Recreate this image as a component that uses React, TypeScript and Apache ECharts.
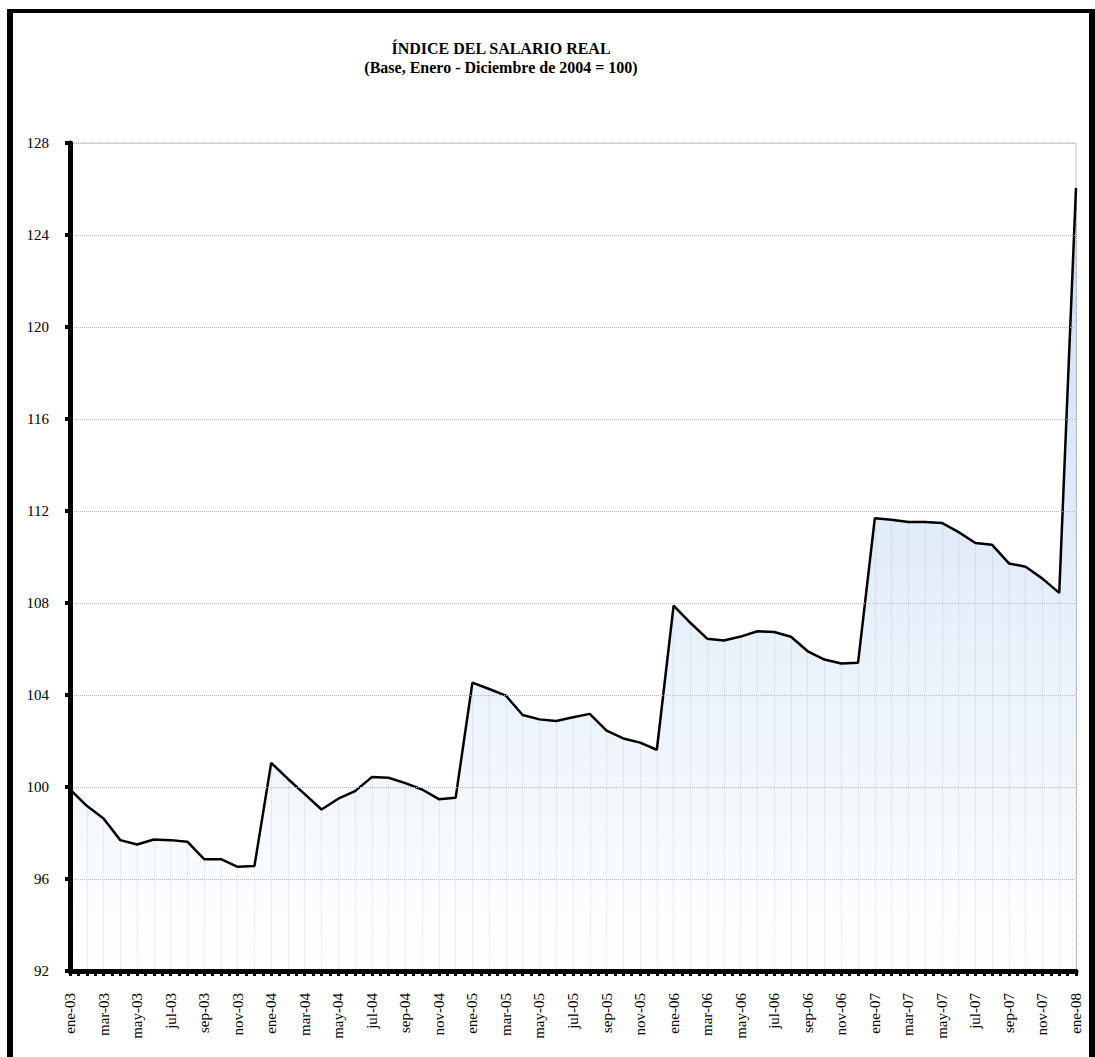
import React, { useEffect, useRef } from "react";
import * as echarts from "echarts";

const categories: string[] = [
  "ene-03", "feb-03", "mar-03", "abr-03", "may-03", "jun-03", "jul-03", "ago-03", "sep-03", "oct-03", "nov-03", "dic-03",
  "ene-04", "feb-04", "mar-04", "abr-04", "may-04", "jun-04", "jul-04", "ago-04", "sep-04", "oct-04", "nov-04", "dic-04",
  "ene-05", "feb-05", "mar-05", "abr-05", "may-05", "jun-05", "jul-05", "ago-05", "sep-05", "oct-05", "nov-05", "dic-05",
  "ene-06", "feb-06", "mar-06", "abr-06", "may-06", "jun-06", "jul-06", "ago-06", "sep-06", "oct-06", "nov-06", "dic-06",
  "ene-07", "feb-07", "mar-07", "abr-07", "may-07", "jun-07", "jul-07", "ago-07", "sep-07", "oct-07", "nov-07", "dic-07",
  "ene-08",
];

const values2003: number[] = [99.9, 99.18, 98.63, 97.69, 97.5, 97.72, 97.69, 97.62, 96.86, 96.86, 96.53, 96.56];
const values2004: number[] = [101.05, 100.35, 99.69, 99.02, 99.49, 99.82, 100.43, 100.4, 100.17, 99.89, 99.47, 99.53];
const values2005: number[] = [104.54, 104.26, 103.97, 103.13, 102.94, 102.87, 103.03, 103.18, 102.45, 102.11, 101.93, 101.62];
const values2006: number[] = [107.89, 107.14, 106.45, 106.37, 106.54, 106.77, 106.74, 106.53, 105.9, 105.54, 105.37, 105.4];
const values2007: number[] = [111.68, 111.62, 111.52, 111.52, 111.48, 111.08, 110.61, 110.53, 109.72, 109.58, 109.06, 108.44];
const values2008: number[] = [126.05];

const salario: number[] = [...values2003, ...values2004, ...values2005, ...values2006, ...values2007, ...values2008];

const yMin = 92;
const yMax = 128;
const yInterval = 4;

const titleLine1 = "ÍNDICE DEL SALARIO REAL";
const titleLine2 = "(Base, Enero - Diciembre de 2004 = 100)";

const SERIF = "Liberation Serif";

export default function App() {
  const ref = useRef<HTMLDivElement>(null);

  useEffect(() => {
    if (!ref.current) return;
    const chart = echarts.init(ref.current, null, { renderer: "svg" });

    const dropLines = salario.map((v, i) => [
      { coord: [categories[i], yMin] },
      { coord: [categories[i], v] },
    ]);

    chart.setOption({
      animation: false,
      backgroundColor: "#ffffff",
      textStyle: { fontFamily: SERIF },
      title: {
        text: titleLine1 + "\n" + titleLine2,
        left: 496,
        top: 34,
        textAlign: "center",
        textStyle: {
          fontFamily: SERIF,
          fontSize: 16,
          fontWeight: "bold",
          color: "#000",
          lineHeight: 19,
        },
      },
      grid: {
        left: 70,
        right: 19,
        top: 143,
        bottom: 86,
        show: true,
        borderColor: "#c8c8c8",
        borderWidth: 1,
        backgroundColor: "transparent",
      },
      xAxis: [
        {
          type: "category",
          data: categories,
          boundaryGap: false,
          axisLine: { show: true, lineStyle: { color: "#000", width: 5 } },
          axisTick: { show: false },
          axisLabel: {
            interval: 1,
            rotate: 90,
            margin: 22,
            fontFamily: SERIF,
            fontSize: 15,
            color: "#000",
          },
          splitLine: { show: false },
          z: 5,
        },
        {
          type: "value",
          min: 0,
          max: (categories.length - 1) * 2,
          interval: 1,
          position: "bottom",
          axisLine: { show: false },
          axisLabel: { show: false },
          splitLine: { show: false },
          axisTick: { show: true, length: 5, lineStyle: { color: "#000", width: 3 } },
          z: 4,
        },
      ],
      yAxis: {
        type: "value",
        min: yMin,
        max: yMax,
        interval: yInterval,
        axisLine: { show: true, lineStyle: { color: "#000", width: 5 } },
        axisTick: { show: true, length: 5, lineStyle: { color: "#000", width: 4 } },
        axisLabel: {
          margin: 21,
          fontFamily: SERIF,
          fontSize: 15,
          color: "#000",
        },
        splitLine: { show: true, lineStyle: { color: "#b8b8b8", type: "dotted", width: 1 } },
        z: 5,
      },
      series: [
        {
          type: "line",
          data: salario,
          xAxisIndex: 0,
          symbol: "none",
          lineStyle: { color: "#000", width: 2.5 },
          areaStyle: {
            origin: "start",
            color: new echarts.graphic.LinearGradient(0, 0, 0, 1, [
              { offset: 0, color: "#b3cef0" },
              { offset: 1, color: "#ffffff" },
            ]),
          },
          z: 3,
          markLine: {
            silent: true,
            symbol: ["none", "none"],
            label: { show: false },
            lineStyle: { color: "#9a9a9a", type: "dotted", width: 1 },
            data: dropLines,
            z: 2,
          },
        },
      ],
    });

    return () => chart.dispose();
  }, []);

  return (
    <div
      style={{
        position: "absolute",
        left: 0,
        top: 0,
        width: 1095,
        height: 1057,
        overflow: "hidden",
        background: "#fff",
      }}
    >
      <div ref={ref} style={{ position: "absolute", left: 0, top: 0, width: 1095, height: 1057 }} />
      <div
        style={{
          position: "absolute",
          left: 7,
          top: 9,
          width: 1076,
          height: 1100,
          borderLeft: "6px solid #000",
          borderTop: "4px solid #000",
          borderRight: "6px solid #000",
          pointerEvents: "none",
        }}
      />
    </div>
  );
}
